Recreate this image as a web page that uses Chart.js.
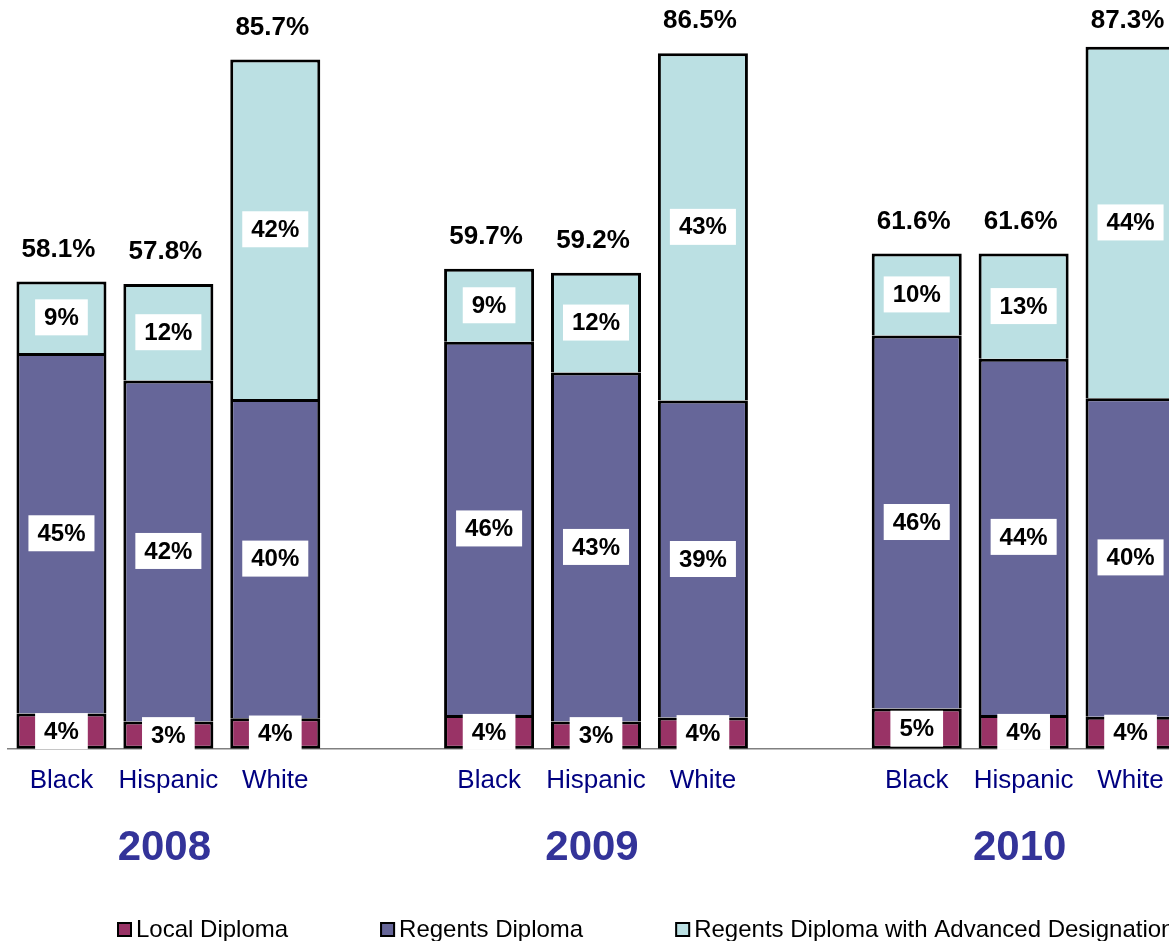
<!DOCTYPE html>
<html>
<head>
<meta charset="utf-8">
<script src="https://cdn.jsdelivr.net/npm/chart.js@4/dist/chart.umd.min.js"></script>
<style>
  html, body { margin: 0; padding: 0; background: #ffffff; overflow: hidden; }
  #wrap { position: relative; width: 1190px; height: 941px; }
</style>
</head>
<body>
<div id="wrap"><canvas id="c"></canvas></div>
<script>
// ---- Data ----
const years = ['2008', '2009', '2010'];
const groups = ['Black', 'Hispanic', 'White'];
const seriesNames = ['Local Diploma', 'Regents Diploma', 'Regents Diploma with Advanced Designation'];
// values per bar, in order 2008 B/H/W, 2009 B/H/W, 2010 B/H/W
const localDiploma        = [4.4, 3.4, 3.8,  4.2, 3.4, 3.9,  5.0, 4.2, 4.0];
const regentsDiploma      = [44.8, 42.4, 39.7, 46.4, 43.4, 39.4, 46.4, 44.3, 39.6];
const advancedDesignation = [8.9, 12.0, 42.2, 9.1, 12.4, 43.2, 10.2, 13.1, 43.7];
const seriesColors = ['#993366', '#666699', '#BBE0E3'];

// ---- Build category slots (a blank slot between year groups) ----
const labels = [];
const slotIndex = [];   // index into value arrays or -1 for gap
years.forEach((yr, yi) => {
  groups.forEach((g, gi) => {
    labels.push(g); slotIndex.push(yi * groups.length + gi);
  });
  if (yi < years.length - 1) { labels.push(''); slotIndex.push(-1); }
});
const toSlots = arr => slotIndex.map(i => (i < 0 ? null : arr[i]));
const seriesData = [localDiploma, regentsDiploma, advancedDesignation];

const datasets = seriesData.map((arr, k) => ({
  label: seriesNames[k],
  data: toSlots(arr),
  backgroundColor: seriesColors[k],
  borderColor: '#000000',
  borderWidth: 3,
  borderSkipped: k === 0 ? false : 'start',
  barPercentage: 0.842,
  categoryPercentage: 1.0
}));

const FONT = '"Liberation Sans", Arial, Helvetica, sans-serif';

const labelPlugin = {
  id: 'labelPlugin',
  afterDatasetsDraw(chart) {
    const ctx = chart.ctx;
    const yScale = chart.scales.y;
    const xScale = chart.scales.x;
    ctx.save();
    // segment labels
    ctx.font = 'bold 24px ' + FONT;
    ctx.textAlign = 'center';
    ctx.textBaseline = 'middle';
    chart.data.datasets.forEach((ds, di) => {
      const meta = chart.getDatasetMeta(di);
      meta.data.forEach((el, i) => {
        const v = ds.data[i];
        if (v === null || v === undefined) return;
        const txt = Math.round(v) + '%';
        const cy = (el.y + el.base) / 2;
        const w = ctx.measureText(txt).width + 18;
        const h = 36;
        ctx.fillStyle = '#ffffff';
        ctx.fillRect(el.x - w / 2, cy - h / 2, w, h);
        ctx.fillStyle = '#000000';
        ctx.fillText(txt, el.x, cy + 1);
      });
    });
    // totals above bars
    ctx.font = 'bold 26px ' + FONT;
    slotIndex.forEach((idx, i) => {
      if (idx < 0) return;
      const total = localDiploma[idx] + regentsDiploma[idx] + advancedDesignation[idx];
      const top = yScale.getPixelForValue(total);
      const x = xScale.getPixelForValue(i);
      const y = Math.max(21, top - 32);
      ctx.fillStyle = '#000000';
      ctx.fillText(total.toFixed(1) + '%', x - 3, y);
    });
    // year labels under middle bar of each group
    ctx.font = 'bold 42px ' + FONT;
    ctx.fillStyle = '#333399';
    years.forEach((yr, yi) => {
      const midSlot = slotIndex.indexOf(yi * groups.length + 1);
      const x = xScale.getPixelForValue(midSlot);
      ctx.fillText(yr, x - 4, 848);
    });
    // legend
    ctx.font = '24px ' + FONT;
    ctx.textAlign = 'left';
    ctx.textBaseline = 'alphabetic';
    let lx = 117;
    seriesNames.forEach((name, k) => {
      ctx.fillStyle = seriesColors[k];
      ctx.fillRect(lx, 922, 15, 15);
      ctx.strokeStyle = '#000000';
      ctx.lineWidth = 2;
      ctx.strokeRect(lx + 1, 923, 13, 13);
      ctx.fillStyle = '#000000';
      ctx.fillText(name, lx + 19, 937);
      lx += 19 + ctx.measureText(name).width + 92;
    });
    ctx.restore();
  }
};

new Chart(document.getElementById('c'), {
  type: 'bar',
  data: { labels: labels, datasets: datasets },
  options: {
    responsive: true,
    maintainAspectRatio: false,
    animation: false,
    layout: { padding: { left: 8, right: 6, top: 25, bottom: 129 } },
    plugins: { legend: { display: false }, tooltip: { enabled: false } },
    scales: {
      x: {
        stacked: true,
        grid: { display: false, drawTicks: false },
        border: { display: true, color: '#808080', width: 1.5 },
        ticks: {
          color: '#000080',
          font: { family: FONT, size: 26 },
          padding: 16,
          autoSkip: false,
          maxRotation: 0
        }
      },
      y: {
        stacked: true,
        display: false,
        min: 0,
        max: 90
      }
    }
  },
  plugins: [labelPlugin]
});
</script>
</body>
</html>
